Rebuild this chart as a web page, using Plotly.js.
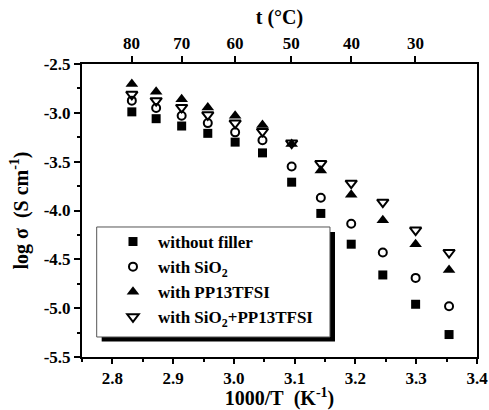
<!DOCTYPE html>
<html>
<head>
<meta charset="utf-8">
<script src="https://cdn.plot.ly/plotly-3.0.1.min.js"></script>
<style>html,body{margin:0;padding:0;background:#fff;}#chart{width:489px;height:410px;}</style>
</head>
<body>
<div id="chart"></div>
<script>
// 1000/T values (K^-1) for 80,75,...,25 °C
const invT = [2.832, 2.872, 2.914, 2.957, 3.002, 3.047, 3.095, 3.143, 3.193, 3.245, 3.299, 3.354];
const noFiller   = [-2.99, -3.06, -3.135, -3.21, -3.30, -3.41, -3.71, -4.03, -4.345, -4.66, -4.96, -5.27];
const withSiO2   = [-2.875, -2.95, -3.03, -3.105, -3.20, -3.28, -3.55, -3.87, -4.135, -4.43, -4.69, -4.98];
const withPP13   = [-2.705, -2.785, -2.86, -2.945, -3.03, -3.125, -3.32, -3.59, -3.84, -4.10, -4.345, -4.61];
const withBoth   = [-2.81, -2.875, -2.945, -3.02, -3.105, -3.19, -3.31, -3.52, -3.72, -3.915, -4.20, -4.43];
const seriesNames = ['without filler', 'with SiO<sub>2</sub>', 'with PP13TFSI', 'with SiO<sub>2</sub>+PP13TFSI'];
const xTickVals = [2.8, 2.9, 3.0, 3.1, 3.2, 3.3, 3.4];
const xTickText = ['2.8', '2.9', '3.0', '3.1', '3.2', '3.3', '3.4'];
const yTickVals = [-2.5, -3.0, -3.5, -4.0, -4.5, -5.0, -5.5];
const yTickText = ['-2.5', '-3.0', '-3.5', '-4.0', '-4.5', '-5.0', '-5.5'];
const topTickTemps = [80, 70, 60, 50, 40, 30];
const topTickPos = topTickTemps.map(t => 1000 / (t + 273.15));

const F = "'Liberation Serif', 'Times New Roman', 'DejaVu Serif', serif";
const mk = (name, y, symbol, size, open) => ({
  x: invT, y: y, name: name, type: 'scatter', mode: 'markers',
  marker: open ? {symbol: symbol, size: size, color: '#000', line: {width: 2, color: '#000'}}
               : {symbol: symbol, size: size, color: '#000', line: {width: 0}},
  xaxis: 'x', yaxis: 'y'
});
const traces = [
  mk(seriesNames[0], noFiller, 'square', 9, false),
  mk(seriesNames[1], withSiO2, 'circle-open', 8, true),
  mk(seriesNames[2], withPP13, 'triangle-up', 11, false),
  mk(seriesNames[3], withBoth, 'triangle-down-open', 10, true)
];
traces.push({x: [2.75, 3.4], y: [null, null], xaxis: 'x2', yaxis: 'y', showlegend: false, mode: 'markers', hoverinfo: 'skip'});

const layout = {
  width: 489, height: 410,
  margin: {l: 82, r: 12, t: 64, b: 53},
  paper_bgcolor: '#fff', plot_bgcolor: '#fff',
  font: {family: F, color: '#000', size: 17, weight: 'bold'},
  showlegend: true,
  legend: {
    x: 0.0658, y: 0.454, xanchor: 'left', yanchor: 'top',
    bgcolor: 'rgba(0,0,0,0)', borderwidth: 0,
    font: {family: F, size: 17, weight: 'bold'},
    tracegroupgap: 0, itemwidth: 40
  },
  xaxis: {
    range: [2.75, 3.4], showgrid: false, zeroline: false,
    showline: true, linewidth: 2, linecolor: '#000', mirror: true,
    ticks: 'outside', ticklen: 5, tickwidth: 2, tickcolor: '#000',
    tickmode: 'array', tickvals: xTickVals, ticktext: xTickText,
    minor: {tickvals: [2.75, 2.85, 2.95, 3.05, 3.15, 3.25, 3.35], ticks: 'outside', ticklen: 3, tickwidth: 2, tickcolor: '#000'},
    tickfont: {family: F, size: 17, weight: 'bold'},
    title: {text: '1000/T\u2002(K<sup>-1</sup>)', font: {family: F, size: 20, weight: 'bold'}, standoff: 10}
  },
  xaxis2: {
    overlaying: 'x', side: 'top', range: [2.75, 3.4], showgrid: false, zeroline: false,
    showline: false, ticks: 'outside', ticklen: 7, tickwidth: 2, tickcolor: '#000',
    tickmode: 'array', tickvals: topTickPos, ticktext: topTickTemps.map(String),
    tickfont: {family: F, size: 17, weight: 'bold'},
    title: {text: 't (°C)', font: {family: F, size: 20, weight: 'bold'}, standoff: 4}
  },
  yaxis: {
    range: [-5.5, -2.5], showgrid: false, zeroline: false,
    showline: true, linewidth: 2, linecolor: '#000', mirror: true,
    ticks: 'outside', ticklen: 6, tickwidth: 2, tickcolor: '#000',
    tickmode: 'array', tickvals: yTickVals, ticktext: yTickText,
    minor: {tickvals: [-2.75, -3.25, -3.75, -4.25, -4.75, -5.25], ticks: 'outside', ticklen: 3, tickwidth: 2, tickcolor: '#000'},
    tickfont: {family: F, size: 17, weight: 'bold'},
    title: {text: 'log σ\u2002(S cm<sup>-1</sup>)', font: {family: F, size: 20, weight: 'bold'}, standoff: 10}
  },
  shapes: [
    {type: 'rect', xref: 'paper', yref: 'paper', layer: 'above',
     x0: 0.0498, x1: 0.6405, y0: 0.0532, y1: 0.427,
     fillcolor: '#000', line: {width: 0}},
    {type: 'rect', xref: 'paper', yref: 'paper', layer: 'above',
     x0: 0.0372, x1: 0.6278, y0: 0.0683, y1: 0.4437,
     fillcolor: '#fff', line: {width: 1, color: '#555'}}
  ]
};
Plotly.newPlot('chart', traces, layout, {displayModeBar: false, staticPlot: true});
</script>
</body>
</html>
